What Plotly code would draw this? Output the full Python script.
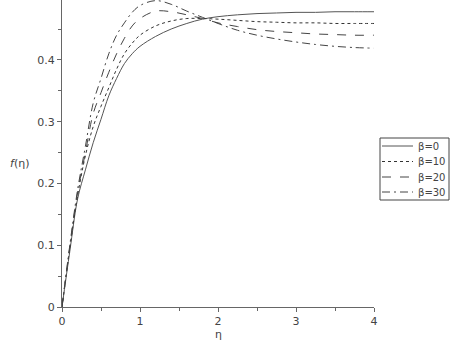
import plotly.graph_objects as go

eta = [0, 0.1, 0.2, 0.3, 0.4, 0.5, 0.6, 0.7, 0.8, 0.9, 1.0, 1.2, 1.4, 1.6, 1.8,
       2.0, 2.25, 2.5, 2.75, 3.0, 3.25, 3.5, 3.75, 4.0]

f_beta0 = [0, 0.09, 0.175, 0.222, 0.266, 0.304, 0.342, 0.37, 0.394, 0.41, 0.422,
           0.438, 0.45, 0.459, 0.466, 0.47, 0.473, 0.475, 0.476, 0.477, 0.477,
           0.478, 0.478, 0.478]
f_beta10 = [0, 0.095, 0.18, 0.245, 0.292, 0.325, 0.355, 0.385, 0.41, 0.427, 0.44,
            0.455, 0.463, 0.467, 0.467, 0.466, 0.464, 0.462, 0.461, 0.46, 0.46,
            0.459, 0.459, 0.459]
f_beta20 = [0, 0.097, 0.185, 0.25, 0.313, 0.347, 0.38, 0.41, 0.435, 0.455, 0.467,
            0.479, 0.478, 0.473, 0.467, 0.46, 0.454, 0.449, 0.446, 0.444, 0.442,
            0.441, 0.44, 0.44]
f_beta30 = [0, 0.1, 0.19, 0.26, 0.33, 0.37, 0.41, 0.44, 0.46, 0.477, 0.488,
            0.496, 0.49, 0.479, 0.469, 0.459, 0.448, 0.44, 0.434, 0.429, 0.425,
            0.422, 0.42, 0.419]

names = ["β=0", "β=10", "β=20", "β=30"]
series = [f_beta0, f_beta10, f_beta20, f_beta30]
dashes = ["solid", "dot", "dash", "8px,4px,2px,4px"]
colors = ["#555555", "#333333", "#444444", "#444444"]

# plot area in pixels (for placing the hand-drawn legend / labels)
L, R, T, B = 62, 374, 0, 307
W, H = R - L, B - T


def px(x):
    return (x - L) / W


def py(y):
    return (B - y) / H


fig = go.Figure()
for n, s, d, c in zip(names, series, dashes, colors):
    fig.add_trace(go.Scatter(x=eta, y=s, mode="lines", name=n, showlegend=False,
                             line=dict(color=c, width=1, dash=d, shape="spline")))

font = dict(family="DejaVu Sans", size=11, color="#444444")

shapes = [dict(type="rect", xref="paper", yref="paper",
               x0=px(380), x1=px(449), y0=py(200), y1=py(138),
               line=dict(color="#444444", width=1), fillcolor="white", layer="above")]
annotations = []
ys = [146, 161.5, 177, 192]
for n, d, c, yy in zip(names, dashes, colors, ys):
    shapes.append(dict(type="line", xref="paper", yref="paper",
                       x0=px(382), x1=px(413), y0=py(yy), y1=py(yy),
                       line=dict(color=c, width=1, dash=d), layer="above"))
    annotations.append(dict(text=n, x=px(416), y=py(yy), xref="paper", yref="paper",
                            xanchor="left", yanchor="middle", showarrow=False,
                            font=dict(family="DejaVu Sans", size=10, color="#444444")))

annotations.append(dict(text="<i>f</i>(η)", x=px(19), y=py(163), xref="paper", yref="paper",
                        xanchor="center", yanchor="middle", showarrow=False, font=font))
annotations.append(dict(text="η", x=px(218), y=py(334), xref="paper", yref="paper",
                        xanchor="center", yanchor="middle", showarrow=False, font=font))

fig.update_layout(
    width=450, height=344,
    margin=dict(l=L, r=450 - R, t=T, b=344 - B),
    plot_bgcolor="white", paper_bgcolor="white",
    font=font,
    showlegend=False,
    shapes=shapes,
    annotations=annotations,
    xaxis=dict(range=[0, 4], tickvals=[0, 1, 2, 3, 4], showgrid=False,
               zeroline=False, showline=True, linecolor="#666666", linewidth=1,
               ticks="outside", ticklen=4, tickcolor="#666666",
               minor=dict(dtick=0.5, ticks="outside", ticklen=3, tickcolor="#666666", showgrid=False),
               tickfont=font),
    yaxis=dict(range=[0, 0.497], tickvals=[0, 0.1, 0.2, 0.3, 0.4], showgrid=False,
               zeroline=False, showline=True, linecolor="#666666", linewidth=1,
               ticks="outside", ticklen=4, tickcolor="#666666",
               minor=dict(dtick=0.05, ticks="outside", ticklen=3, tickcolor="#666666", showgrid=False),
               tickfont=font),
)
fig.write_html("out.html")
